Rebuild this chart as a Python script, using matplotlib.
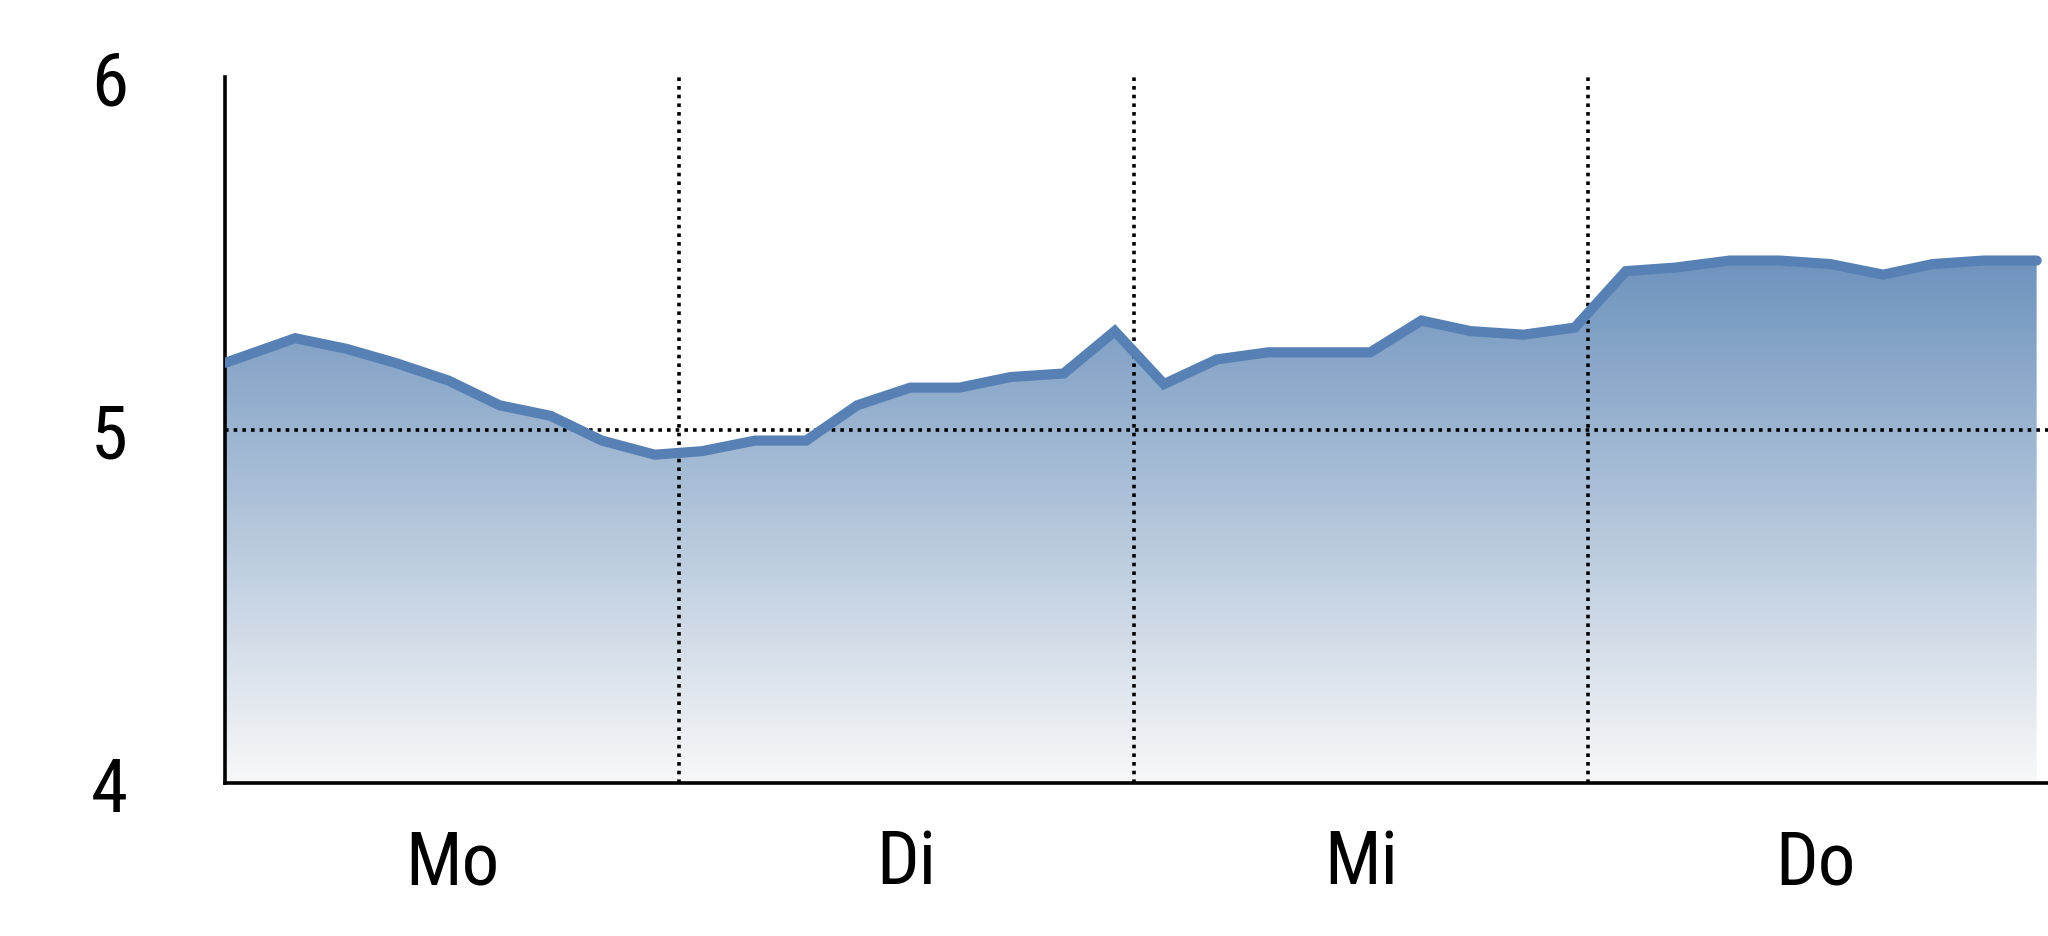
import numpy as np
import matplotlib
matplotlib.use('Agg')
import matplotlib.pyplot as plt
from matplotlib import font_manager
from matplotlib.colors import LinearSegmentedColormap

# schmale Schrift suchen, sonst normale
names = set(f.name for f in font_manager.fontManager.ttflist)
narrow = [n for n in ['Liberation Sans Narrow', 'Arial Narrow', 'Roboto Condensed',
                      'Noto Sans Condensed', 'Open Sans Condensed'] if n in names]
narrow += sorted(f.name for f in font_manager.fontManager.ttflist
                 if f.stretch in ('condensed', 'semi-condensed', 'extra-condensed'))
fam = narrow[0] if narrow else 'Liberation Sans'
plt.rcParams['font.family'] = [fam, 'Liberation Sans', 'DejaVu Sans']
plt.rcParams['font.stretch'] = 'condensed'

# Stunden ab Montag 0 Uhr
hours = [0, 3.7, 6.4, 9.0, 11.8, 14.5, 17.2, 19.9, 22.7, 25.2,
         28.0, 30.7, 33.4, 36.2, 38.8, 41.5, 44.3, 47.0, 49.6, 52.4,
         55.1, 57.7, 60.5, 63.2, 65.8, 68.6, 71.3, 74.0, 76.6, 79.5,
         82.1, 84.8, 87.6, 90.2, 92.9, 95.7]
values = [5.19, 5.26, 5.23, 5.19, 5.14, 5.07, 5.04, 4.97, 4.93, 4.94,
          4.97, 4.97, 5.07, 5.12, 5.12, 5.15, 5.16, 5.28, 5.13, 5.20,
          5.22, 5.22, 5.22, 5.31, 5.28, 5.27, 5.29, 5.45, 5.46, 5.48,
          5.48, 5.47, 5.44, 5.47, 5.48, 5.48]
day_labels = ['Mo', 'Di', 'Mi', 'Do']
day_centers = [12, 36, 60, 84]
day_bounds = [24, 48, 72]
y_ticks = [4, 5, 6]

line_color = '#5781b4'

fig = plt.figure(figsize=(20.48, 9.37), dpi=100)
ax = fig.add_axes([0.1099, 0.1633, 0.8901, 0.7535])

ax.set_xlim(0, 96.3)
ax.set_ylim(4, 6)

# Verlaufsfüllung unter der Kurve
poly = ax.fill_between(hours, values, 4, facecolor='none', edgecolor='none')
cmap = LinearSegmentedColormap.from_list('blau', ['#f8f8f8', '#6c92bd'])
grad = np.linspace(0, 1, 256).reshape(-1, 1)
im = ax.imshow(grad, cmap=cmap, origin='lower', aspect='auto',
               extent=[hours[0], hours[-1], 4, 5.5], zorder=1)
im.set_clip_path(poly.get_paths()[0], transform=ax.transData)

ax.plot(hours, values, color=line_color, lw=7.3, solid_capstyle='round',
        solid_joinstyle='miter', zorder=3)

# Hilfslinien
dots = (0, (1, 1.4))
ax.axhline(5, color='black', lw=2.6, linestyle=dots, zorder=2)
for b in day_bounds:
    ax.axvline(b, color='black', lw=2.6, linestyle=dots, zorder=2)

ax.autoscale(False)
ax.set_xlim(0, 96.3)
ax.set_ylim(4, 6)

for s in ['top', 'right']:
    ax.spines[s].set_visible(False)
for s in ['left', 'bottom']:
    ax.spines[s].set_linewidth(2.6)
    ax.spines[s].set_color('black')

ax.set_yticks(y_ticks)
ax.set_yticklabels([str(t) for t in y_ticks])
ax.set_xticks(day_centers)
ax.set_xticklabels(day_labels)
ax.tick_params(axis='both', length=0, labelsize=54)
ax.tick_params(axis='y', pad=70)
ax.tick_params(axis='x', pad=32)

fig.savefig('out.png', dpi=100)
